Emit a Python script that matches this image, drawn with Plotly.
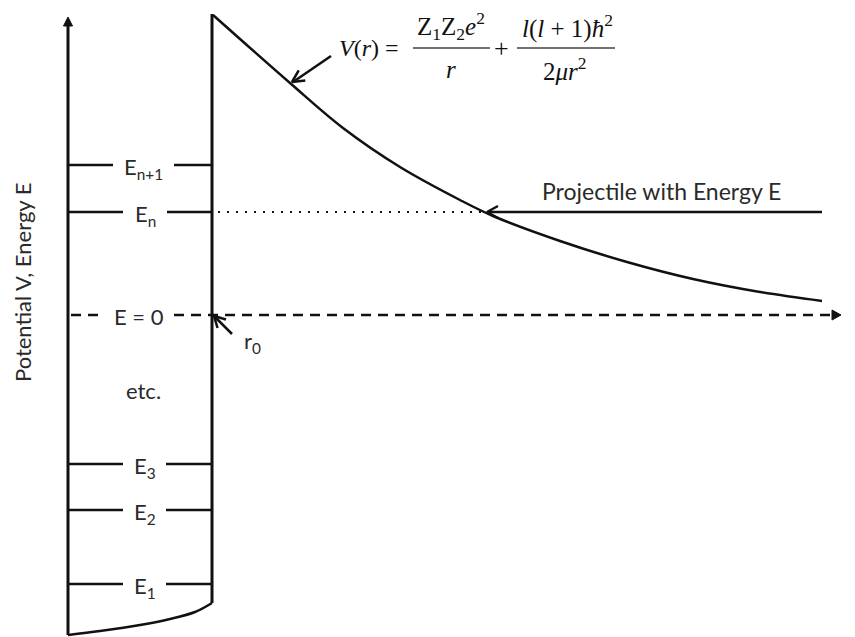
import math
import plotly.graph_objects as go

# ---------------- data (r in plot units, energy in plot units; E = 0 at 0) ----------------
r_axis = 68            # position of the energy axis / left wall
r0 = 212               # nuclear radius (right wall of the well)
E_top_wall = 301       # top of V(r) at r0
E_axis_top = 298       # arrow tip of energy axis
E_axis_bottom = -320

level_labels = ["E<sub>1</sub>", "E<sub>2</sub>", "E<sub>3</sub>", "E<sub>n</sub>", "E<sub>n+1</sub>"]
level_E = [-269, -195, -149, 103, 150]

curve_r = [213, 290, 343, 400, 460, 493, 560, 627, 693, 760, 822]
curve_V = [300, 232, 187, 148, 115, 99, 74, 53, 36, 23, 14]

bottom_r = [68, 100, 140, 170, 195, 212]
bottom_V = [-320, -316, -310, -304, -297, -288]

E_projectile = 103      # equals E_n
r_projectile_start = 822
r_turning = 487
r_zero_end = 841

# ---------------- figure ----------------
INK = "#111111"
TXT = "#2a2a2a"
SANS = "Lato"
fig = go.Figure()


def add_line(xs, ys, width=3, dash=None, color=INK, shape="linear"):
    fig.add_trace(go.Scatter(x=xs, y=ys, mode="lines", hoverinfo="skip",
                             line=dict(color=color, width=width, dash=dash, shape=shape)))


def head_pts(tx, ty, ux, uy, L, W):
    n = math.hypot(ux, uy)
    ux, uy = ux / n, uy / n
    px, py = -uy, ux
    bx, by = tx - ux * L, ty - uy * L
    return [bx + px * W, tx, bx - px * W], [by + py * W, ty, by - py * W]


def filled_head(tx, ty, ux, uy, L=9, W=4.5):
    xs, ys = head_pts(tx, ty, ux, uy, L, W)
    fig.add_trace(go.Scatter(x=xs + [xs[0]], y=ys + [ys[0]], mode="lines", fill="toself",
                             fillcolor=INK, line=dict(color=INK, width=1), hoverinfo="skip"))


def open_head(tx, ty, ux, uy, L=11, W=6, width=2.5):
    xs, ys = head_pts(tx, ty, ux, uy, L, W)
    add_line(xs, ys, width=width)


# energy axis with arrow
add_line([r_axis, r_axis], [E_axis_bottom, E_axis_top - 6], width=3)
filled_head(r_axis, E_axis_top, 0, 1, L=9, W=4.5)

# right wall and Coulomb + centrifugal potential
add_line([r0, r0], [bottom_V[-1], E_top_wall], width=3)
add_line(curve_r, curve_V, width=2.5, shape="spline")

# bottom of the well
add_line(bottom_r, bottom_V, width=2.5, shape="spline")

# bound levels (split around the label)
gaps = {"E<sub>n+1</sub>": (113, 174), "E<sub>n</sub>": (123, 167)}
xs, ys = [], []
for lab, e in zip(level_labels, level_E):
    lo, hi = gaps.get(lab, (123, 166))
    xs += [r_axis, lo, None, hi, r0, None]
    ys += [e, e, None, e, e, None]
    fig.add_annotation(x=(lo + hi) / 2, y=e, text=lab, showarrow=False,
                       font=dict(family=SANS, size=22, color=TXT), yshift=-3)
add_line(xs, ys, width=2.5)

# E = 0 dashed line with arrow
add_line([r_axis + 3, 104, None, 174, r_zero_end - 6], [0, 0, None, 0, 0],
         width=2.5, dash="10px,7px")
filled_head(r_zero_end, 0, 1, 0, L=9, W=5)
fig.add_annotation(x=139, y=0, text="E = 0", showarrow=False,
                   font=dict(family=SANS, size=22, color=TXT), yshift=-1)

# dotted continuation of E_n to the turning point
add_line([r0 + 6, r_turning - 6], [E_projectile, E_projectile], width=2.2, dash="2px,7px")

# projectile arrow
add_line([r_projectile_start, r_turning + 1], [E_projectile, E_projectile], width=2.5)
open_head(r_turning, E_projectile, -1, 0, L=11, W=6)
fig.add_annotation(x=661, y=E_projectile, text="Projectile with Energy E", showarrow=False,
                   yshift=21, font=dict(family=SANS, size=23, color=TXT))

# arrow from formula to curve
add_line([331, 293], [259, 233], width=2.5)
open_head(292, 233, -41, -27, L=12, W=6)

# r0 arrow
add_line([232, 215], [-19, -2], width=2.5)
open_head(214, -1, -18, 18, L=11, W=6)
fig.add_annotation(x=242, y=-27, text="r<sub>0</sub>", showarrow=False, xanchor="left",
                   font=dict(family=SANS, size=22, color=TXT))

# etc.
fig.add_annotation(x=143, y=-75, text="etc.", showarrow=False,
                   font=dict(family=SANS, size=22, color=TXT))

# y-axis title
fig.add_annotation(x=22, y=32, text="Potential V, Energy E", showarrow=False, textangle=-90,
                   font=dict(family=SANS, size=22, color=TXT))

# formula
SERIF = "Liberation Serif"
fy = 267
fig.add_annotation(x=337, y=fy, text="<i>V</i>(<i>r</i>) =", showarrow=False, xanchor="left",
                   font=dict(family=SERIF, size=24, color=INK))
fig.add_annotation(x=451, y=fy + 22, text="Z<sub>1</sub>Z<sub>2</sub><i>e</i><sup>2</sup>",
                   showarrow=False, font=dict(family=SERIF, size=25, color=INK))
fig.add_annotation(x=451, y=fy - 21, text="<i>r</i>", showarrow=False,
                   font=dict(family=SERIF, size=25, color=INK))
fig.add_annotation(x=501, y=fy, text="+", showarrow=False,
                   font=dict(family=SERIF, size=26, color=INK))
fig.add_annotation(x=567, y=fy + 22, text="<i>l</i>(<i>l</i> + 1)<i>ħ</i><sup>2</sup>",
                   showarrow=False, font=dict(family=SERIF, size=25, color=INK))
fig.add_annotation(x=565, y=fy - 21, text="2<i>μr</i><sup>2</sup>", showarrow=False,
                   font=dict(family=SERIF, size=25, color=INK))
for x0, x1 in [(413, 490), (517, 615)]:
    fig.add_shape(type="line", x0=x0, x1=x1, y0=fy, y1=fy, line=dict(color="#444", width=1.5))

fig.update_layout(
    width=855, height=637, margin=dict(l=0, r=0, t=0, b=0),
    paper_bgcolor="white", plot_bgcolor="white", showlegend=False,
    xaxis=dict(range=[0, 855], visible=False, fixedrange=True),
    yaxis=dict(range=[-322, 315], visible=False, fixedrange=True),
)
fig.write_html("out.html")
